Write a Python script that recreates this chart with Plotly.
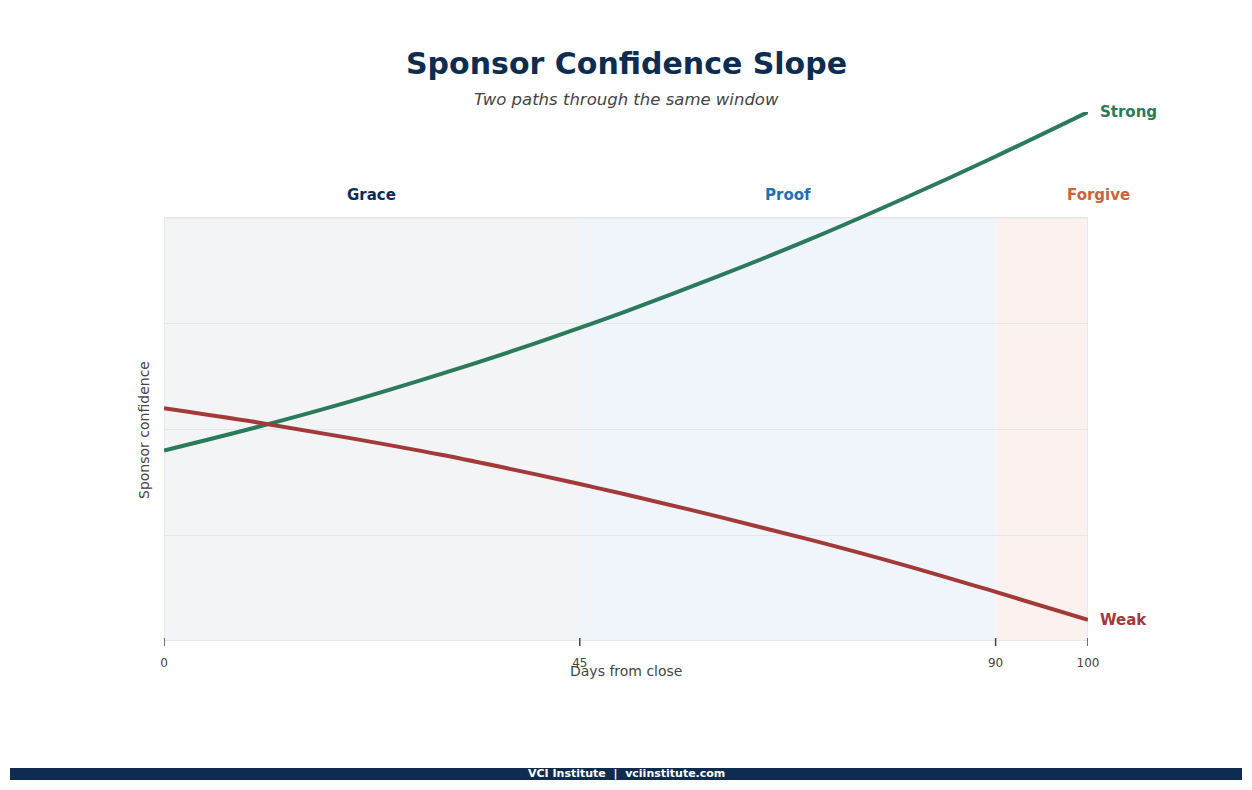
import plotly.graph_objects as go

# Days from close and the two confidence paths
days = [0, 10, 20, 30, 40, 45, 50, 60, 70, 80, 90, 100]
strong = [45, 50.5, 56.5, 63.1, 70.2, 74.0, 77.9, 86.2, 95.0, 104.5, 114.5, 125]
weak = [55, 51.7, 48.0, 44.0, 39.5, 37.1, 34.6, 29.4, 23.9, 18.0, 11.6, 5]

phase_names = ["Grace", "Proof", "Forgive"]
phase_start = [0, 45, 90]
phase_end = [45, 90, 100]
phase_fill = ["#f2f4f6", "#eff5fa", "#fbf2ef"]
phase_color = ["#0d2c4f", "#1f6fb5", "#c8643b"]
# label centres in paper units (Forgive sits just past the right edge)
phase_label_x = [0.225, 0.675, 1.0119]

tick_days = [0, 45, 90, 100]

NAVY = "#0d2c4f"
GREEN = "#2b7a5b"
RED = "#a33a3a"

fig = go.Figure()

fig.add_trace(go.Scatter(x=days, y=strong, mode="lines", line=dict(color=GREEN, width=4, shape="spline"),
                         name="Strong", hoverinfo="skip"))
fig.add_trace(go.Scatter(x=days, y=weak, mode="lines", line=dict(color=RED, width=4, shape="spline"),
                         name="Weak", hoverinfo="skip"))

# phase bands
for s, e, c in zip(phase_start, phase_end, phase_fill):
    fig.add_shape(type="rect", x0=s, x1=e, y0=0, y1=100, xref="x", yref="y",
                  fillcolor=c, line_width=0, layer="below")
fig.add_shape(type="rect", x0=0, x1=100, y0=0, y1=100, xref="x", yref="y",
              line=dict(color="#d9dde3", width=1), fillcolor="rgba(0,0,0,0)", layer="below")

# tick marks that straddle the bottom edge, like the original
for d in tick_days:
    fig.add_shape(type="line", x0=d, x1=d, y0=-0.0095, y1=0.0057, xref="x", yref="paper",
                  line=dict(color="#444444", width=1.5), layer="above")

for name, lx, c in zip(phase_names, phase_label_x, phase_color):
    fig.add_annotation(x=lx, y=105.5, xref="paper", yref="y", text="<b>%s</b>" % name, showarrow=False,
                       xanchor="center", yanchor="middle", font=dict(size=15, color=c))

# end labels
fig.add_annotation(x=100, y=strong[-1], text="<b>Strong</b>", showarrow=False, xanchor="left",
                   yanchor="middle", xshift=10, font=dict(size=15, color=GREEN))
fig.add_annotation(x=100, y=weak[-1], text="<b>Weak</b>", showarrow=False, xanchor="left",
                   yanchor="middle", xshift=10, font=dict(size=15, color=RED))

# axis titles
fig.add_annotation(x=0.5, y=-0.0567, xref="paper", yref="paper", text="Days from close", showarrow=False,
                   xanchor="center", yanchor="middle", font=dict(size=14, color="#444444"))
fig.add_annotation(x=-0.02165, y=0.3989, xref="paper", yref="paper", text="Sponsor confidence",
                   showarrow=False, xanchor="center", yanchor="middle", textangle=-90,
                   font=dict(size=14, color="#444444"))

# title + subtitle
fig.add_annotation(x=0.5, y=1.0926, xref="paper", yref="paper", text="<b>Sponsor Confidence Slope</b>",
                   showarrow=False, xanchor="center", yanchor="middle", font=dict(size=30, color=NAVY))
fig.add_annotation(x=0.5, y=1.0227, xref="paper", yref="paper", text="<i>Two paths through the same window</i>",
                   showarrow=False, xanchor="center", yanchor="middle", font=dict(size=16.5, color="#444444"))

# footer bar
fig.add_shape(type="rect", xref="paper", yref="paper", x0=-0.16667, x1=1.16667, y0=-0.2628, y1=-0.2401,
              fillcolor=NAVY, line_width=0)
fig.add_annotation(x=0.5, y=-0.2514, xref="paper", yref="paper",
                   text="<b>VCI Institute  |  vciinstitute.com</b>", showarrow=False,
                   xanchor="center", yanchor="middle", font=dict(size=11, color="white"))

fig.update_layout(
    width=1236, height=774,
    margin=dict(l=156, r=156, t=104, b=141),
    paper_bgcolor="white", plot_bgcolor="white",
    font=dict(family="DejaVu Sans", color="#444444"),
    showlegend=False,
    xaxis=dict(range=[0, 100], tickvals=tick_days, ticks="outside", ticklen=6,
               tickcolor="rgba(0,0,0,0)", ticklabelstandoff=5,
               tickfont=dict(size=12, color="#444444"), showgrid=False, zeroline=False, showline=False,
               fixedrange=True),
    yaxis=dict(range=[0, 125], tickvals=[25, 50, 75], showticklabels=False, showgrid=True,
               gridcolor="#e3e6ea", zeroline=False, showline=False, fixedrange=True),
)

fig.write_html("out.html")
